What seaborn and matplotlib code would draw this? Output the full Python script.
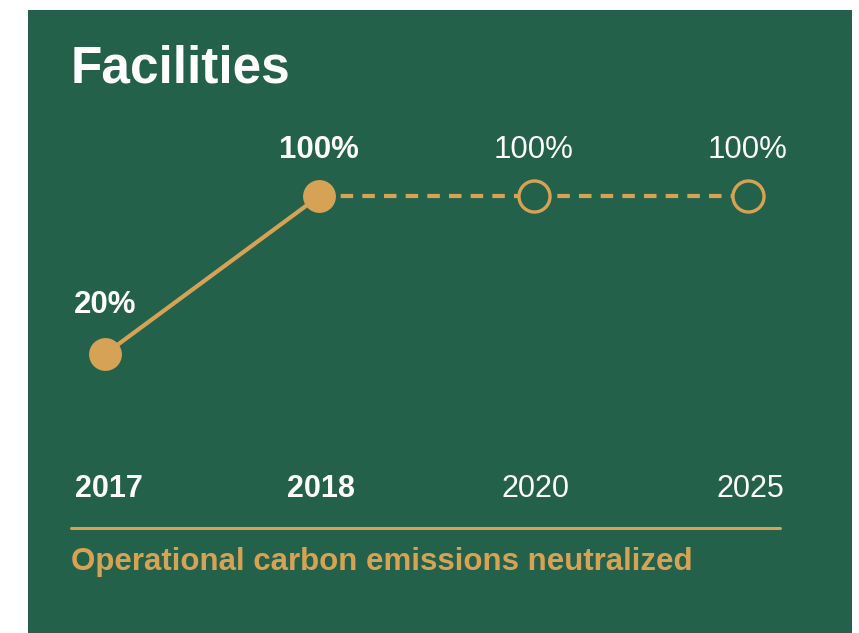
"""Facilities: operational carbon emissions neutralized, progress by year."""

import pandas as pd
import matplotlib.pyplot as plt
import seaborn as sns

GREEN = "#23614A"
GOLD = "#D6A356"

years = ["2017", "2018", "2020", "2025"]
values = [20, 100, 100, 100]
value_labels = ["20%", "100%", "100%", "100%"]
achieved = [True, True, False, False]   # bold + filled = achieved, else target

title = "Facilities"
subtitle = "Operational carbon emissions neutralized"

sns.set_theme(style="white")
plt.rcParams['font.family'] = ['Liberation Sans', 'DejaVu Sans']

df = pd.DataFrame({"year": years, "value": values, "achieved": achieved})
done = df[df["achieved"]]
target = df.iloc[1:]   # dashed path starts at the last achieved point

fig = plt.figure(figsize=(8.59, 6.33), dpi=100)
fig.patch.set_facecolor("white")
ax = fig.add_axes([28 / 859, 0, 824 / 859, 623 / 633])
ax.set_facecolor(GREEN)

sns.lineplot(data=done, x="year", y="value", color=GOLD, linewidth=3, ax=ax, sort=False)
sns.lineplot(data=target, x="year", y="value", color=GOLD, linewidth=3,
             dashes=False, ax=ax, sort=False)
ax.lines[-1].set_dashes([3, 2.2])
ax.lines[-1].set_zorder(1)

sns.scatterplot(data=done, x="year", y="value", color=GOLD, s=560,
                linewidth=0, ax=ax, zorder=3)
sns.scatterplot(data=df[~df["achieved"]], x="year", y="value", s=500,
                facecolor=GREEN, edgecolor=GOLD, linewidth=2.4, ax=ax, zorder=3)

ax.set_xlim(-0.359, 3.485)
ax.set_ylim(-121.2, 194.2)

for i, (yr, v, lab, ok) in enumerate(zip(years, values, value_labels, achieved)):
    w = "bold" if ok else "normal"
    ax.annotate(lab, xy=(i, v), xytext=(0, 35 if i == 0 else 33), textcoords="offset points",
                ha="center", va="center", color="white", fontsize=22.5, fontweight=w)
    ax.text(i + (0.02 if i == 0 else 0.01), -48.5, yr, ha="center", va="center",
            color="white", fontsize=22, fontweight=w)

ax.set_xlabel("")
ax.set_ylabel("")
ax.set_xticks([])
ax.set_yticks([])
for s in ax.spines.values():
    s.set_visible(False)
if ax.get_legend():
    ax.get_legend().remove()

fig.text(71 / 859, 1 - 69 / 633, title, color="white", fontsize=37,
         fontweight="bold", ha="left", va="center")
fig.add_artist(plt.Line2D([71 / 859, 780 / 859], [1 - 528 / 633] * 2,
                          color=GOLD, linewidth=2.2, transform=fig.transFigure))
fig.text(71 / 859, 1 - 562 / 633, subtitle, color=GOLD, fontsize=22.5,
         fontweight="bold", ha="left", va="center")

fig.savefig("out.png", dpi=100, facecolor="white")
